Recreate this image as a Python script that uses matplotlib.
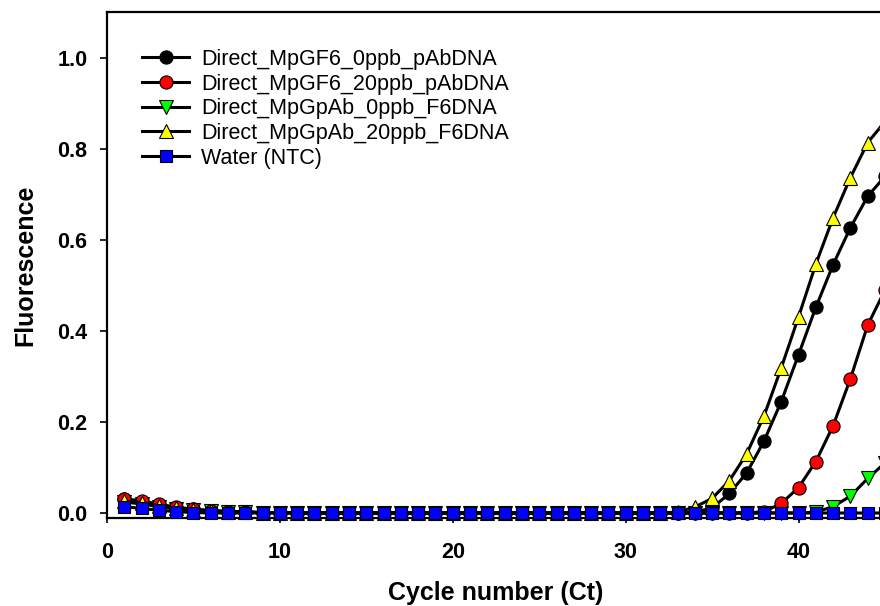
import numpy as np
import matplotlib
matplotlib.use('Agg')
import matplotlib.pyplot as plt

plt.rcParams['font.family'] = ['Liberation Sans', 'DejaVu Sans']

cycles = np.arange(1, 46)

# fluorescence, cycles 1..45
gf6_0ppb = [0.030, 0.025, 0.018, 0.012, 0.008, 0.005, 0.003, 0.002, 0.001, 0.001,
            0.0, 0.0, 0.0, 0.0, 0.0, 0.0, 0.0, 0.0, 0.0, 0.0,
            0.0, 0.0, 0.0, 0.0, 0.0, 0.0, 0.0, 0.0, 0.0, 0.0,
            0.0, 0.0, 0.0, 0.002, 0.011, 0.043, 0.088, 0.158, 0.245, 0.348,
            0.452, 0.546, 0.627, 0.696, 0.740]
gf6_20ppb = [0.031, 0.027, 0.019, 0.013, 0.008, 0.005, 0.003, 0.002, 0.001, 0.001,
             0.0, 0.0, 0.0, 0.0, 0.0, 0.0, 0.0, 0.0, 0.0, 0.0,
             0.0, 0.0, 0.0, 0.0, 0.0, 0.0, 0.0, 0.0, 0.0, 0.0,
             0.0, 0.0, 0.0, 0.0, 0.0, 0.0, 0.0, 0.003, 0.021, 0.056,
             0.113, 0.192, 0.295, 0.413, 0.490]
gpab_0ppb = [0.024, 0.020, 0.014, 0.009, 0.006, 0.004, 0.003, 0.002, 0.001, 0.001,
             0.0, 0.0, 0.0, 0.0, 0.0, 0.0, 0.0, 0.0, 0.0, 0.0,
             0.0, 0.0, 0.0, 0.0, 0.0, 0.0, 0.0, 0.0, 0.0, 0.0,
             0.0, 0.0, 0.0, 0.0, 0.0, 0.0, 0.0, 0.0, 0.0, 0.0,
             0.002, 0.014, 0.037, 0.076, 0.110]
gpab_20ppb = [0.026, 0.023, 0.016, 0.011, 0.007, 0.005, 0.003, 0.002, 0.001, 0.001,
              0.0, 0.0, 0.0, 0.0, 0.0, 0.0, 0.0, 0.0, 0.0, 0.0,
              0.0, 0.0, 0.0, 0.0, 0.0, 0.0, 0.0, 0.0, 0.0, 0.0,
              0.0, 0.0, 0.002, 0.013, 0.032, 0.071, 0.130, 0.213, 0.319, 0.431,
              0.547, 0.649, 0.737, 0.814, 0.860]
water = [0.014, 0.010, 0.006, 0.003, 0.001, 0.0, 0.0, 0.0, 0.0, 0.0,
         0.0, 0.0, 0.0, 0.0, 0.0, 0.0, 0.0, 0.0, 0.0, 0.0,
         0.0, 0.0, 0.0, 0.0, 0.0, 0.0, 0.0, 0.0, 0.0, 0.0,
         0.0, 0.0, 0.0, 0.0, 0.0, 0.0, 0.0, 0.0, 0.0, 0.0,
         0.0, 0.0, 0.0, 0.0, 0.0]

labels = ['Direct_MpGF6_0ppb_pAbDNA', 'Direct_MpGF6_20ppb_pAbDNA',
          'Direct_MpGpAb_0ppb_F6DNA', 'Direct_MpGpAb_20ppb_F6DNA', 'Water (NTC)']
series = [gf6_0ppb, gf6_20ppb, gpab_0ppb, gpab_20ppb, water]
markers = ['o', 'o', 'v', '^', 's']
colors = ['black', '#ff0000', '#00ff00', '#ffff00', '#0000ff']
msizes = [9.5, 9.5, 9.5, 9.5, 8.5]
zorders = [3, 5, 4, 6, 7]

fig = plt.figure(figsize=(8.8, 6.06), dpi=100)
ax = fig.add_axes([107/880, 88/606, 778/880, 506/606])

for i in range(len(series)):
    ax.plot(cycles, series[i], color='black', lw=2.2, marker=markers[i],
            ms=msizes[i], mfc=colors[i], mec='black', mew=0.8,
            label=labels[i], clip_on=False, zorder=zorders[i])

ax.set_xlim(0, 45)
ax.set_ylim(-0.011, 1.101)
ax.set_xticks([0, 10, 20, 30, 40])
ax.set_yticks([0.0, 0.2, 0.4, 0.6, 0.8, 1.0])
ax.set_yticklabels(['%.1f' % v for v in [0.0, 0.2, 0.4, 0.6, 0.8, 1.0]])
for s in ax.spines.values():
    s.set_linewidth(1.6)
ax.tick_params(axis='y', direction='out', length=5, width=1.2, pad=9, labelsize=15.5)
ax.tick_params(axis='x', direction='out', length=3.5, width=1.2, pad=14, labelsize=15.5)
for t in ax.get_xticklabels() + ax.get_yticklabels():
    t.set_fontweight('bold')

ax.set_xlabel('Cycle number (Ct)', fontsize=18, fontweight='bold')
ax.set_ylabel('Fluorescence', fontsize=18, fontweight='bold')
ax.xaxis.set_label_coords(0.5, -0.125)
ax.yaxis.set_label_coords(-0.09, 0.5)

ax.legend(loc='upper left', bbox_to_anchor=(0.045, 0.927), frameon=False,
          fontsize=15.5, handlelength=2.2, handletextpad=0.55, labelspacing=0.17,
          borderpad=0, borderaxespad=0)

plt.savefig('out.png', dpi=100)
